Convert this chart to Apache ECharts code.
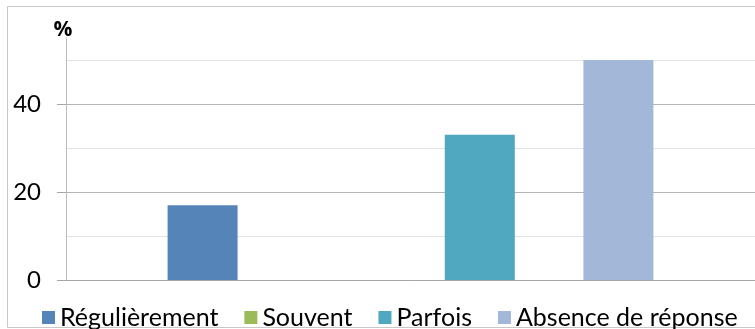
<!DOCTYPE html>
<html>
<head>
<meta charset="utf-8">
<script src="https://cdn.jsdelivr.net/npm/echarts@6/dist/echarts.min.js"></script>
<style>
  html, body { margin: 0; padding: 0; background: #fff; }
  #chart { width: 755px; height: 329px; }
</style>
</head>
<body>
<div id="chart"></div>
<script>
// Response categories and their shares (%)
const categories = ['Régulièrement', 'Souvent', 'Parfois', 'Absence de réponse'];
const values = [17, 0, 33, 50];
const colors = ['#5585b8', '#9bbb59', '#4fa8bf', '#a3b8d9'];

// Value axis: labelled major ticks and lighter minor gridlines
const yMax = 55;
const majorTicks = [0, 20, 40];
const minorTicks = [10, 30, 50];

const FONT = 'Lato';

const chart = echarts.init(document.getElementById('chart'), null, { renderer: 'canvas' });

const series = categories.map((name, i) => ({
  name: name,
  type: 'bar',
  yAxisIndex: 0,
  barWidth: 70,
  barGap: '98%',
  itemStyle: { color: colors[i] },
  data: [values[i]],
  animation: false
}));

chart.setOption({
  animation: false,
  backgroundColor: '#ffffff',
  textStyle: { fontFamily: FONT },
  graphic: [{
    type: 'rect',
    shape: { x: 7.5, y: 6.5, width: 780, height: 321 },
    style: { fill: 'none', stroke: '#c8c8c8', lineWidth: 1 },
    silent: true,
    z: -1
  }],
  grid: { left: 66, top: 38, width: 696, height: 242, containLabel: false },
  legend: {
    left: 37,
    top: 300,
    itemWidth: 13,
    itemHeight: 13,
    itemGap: 26,
    icon: 'rect',
    textStyle: { fontFamily: FONT, fontSize: 25, color: '#000', padding: [0, 0, 0, 0] },
    data: categories
  },
  xAxis: {
    type: 'category',
    data: [''],
    axisLine: { show: true, lineStyle: { color: '#a6a6a6', width: 1 } },
    axisTick: { show: false },
    axisLabel: { show: false },
    splitLine: { show: false }
  },
  yAxis: [
    {
      // minor gridlines + axis line
      type: 'value',
      min: 0,
      max: yMax,
      interval: 10,
      axisLine: { show: true, lineStyle: { color: '#bdbdbd', width: 1 } },
      axisTick: { show: false, customValues: minorTicks },
      axisLabel: { show: false },
      splitLine: { show: true, lineStyle: { color: '#e2e2e2', width: 1 } }
    },
    {
      // major ticks, labels and gridlines
      type: 'value',
      min: 0,
      max: yMax,
      interval: 10,
      position: 'left',
      name: '%',
      nameLocation: 'end',
      nameGap: -3,
      nameTextStyle: { fontFamily: 'Open Sans', fontSize: 21, fontWeight: 'bold', color: '#000', padding: [0, 6, 0, 0] },
      axisLine: { show: false },
      axisTick: { show: true, inside: false, length: 9, customValues: majorTicks, lineStyle: { color: '#a6a6a6' } },
      axisLabel: { show: true, customValues: majorTicks, margin: 25, fontFamily: FONT, fontSize: 24, color: '#000' },
      splitLine: { show: true, lineStyle: { color: '#b5b5b5', width: 1 } }
    }
  ],
  series: series
});
</script>
</body>
</html>
